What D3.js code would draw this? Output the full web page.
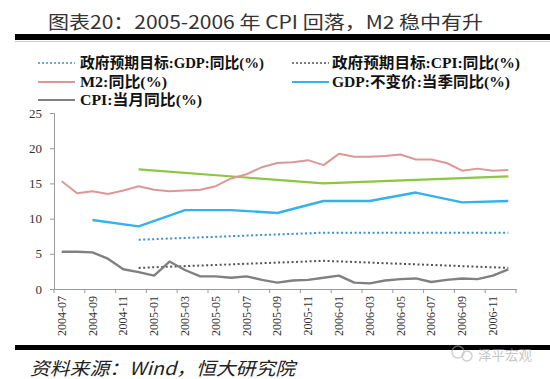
<!DOCTYPE html>
<html>
<head>
<meta charset="utf-8">
<script src="https://cdn.jsdelivr.net/npm/d3@7"></script>
<style>
  html, body { margin: 0; padding: 0; background: #fff; }
  svg { display: block; }
</style>
</head>
<body>
<script>
// ---------- data ----------
const months = ["2004-07","2004-08","2004-09","2004-10","2004-11","2004-12",
  "2005-01","2005-02","2005-03","2005-04","2005-05","2005-06",
  "2005-07","2005-08","2005-09","2005-10","2005-11","2005-12",
  "2006-01","2006-02","2006-03","2006-04","2006-05","2006-06",
  "2006-07","2006-08","2006-09","2006-10","2006-11","2006-12"];
const tickLabels = ["2004-07","2004-09","2004-11","2005-01","2005-03","2005-05","2005-07",
  "2005-09","2005-11","2006-01","2006-03","2006-05","2006-07","2006-09","2006-11"];
const yTicks = [0, 5, 10, 15, 20, 25];

const cpiMonthly = [5.3,5.3,5.2,4.3,2.8,2.4,1.9,3.9,2.7,1.8,1.8,1.6,1.8,1.3,0.9,
  1.2,1.3,1.6,1.9,0.9,0.8,1.2,1.4,1.5,1.0,1.3,1.5,1.4,1.9,2.8];
const m2Monthly = [15.3,13.6,13.9,13.5,14.0,14.6,14.1,13.9,14.0,14.1,14.6,15.7,16.3,17.3,17.9,
  18.0,18.3,17.6,19.2,18.8,18.8,18.9,19.1,18.4,18.4,17.9,16.8,17.1,16.8,16.9];

const gdpQuarters = ["2004-09","2004-12","2005-03","2005-06","2005-09","2005-12",
  "2006-03","2006-06","2006-09","2006-12"];
const gdpQuarterly = [9.8, 8.9, 11.2, 11.2, 10.8, 12.5, 12.5, 13.7, 12.3, 12.5];

const targetMonths = ["2004-12","2005-12","2006-12"];
const gdpTarget = [7, 8, 8];
const cpiTarget = [3, 4, 3];
const m2Target = [17, 15, 16];

const legendLabels = ["政府预期目标:GDP:同比(%)", "政府预期目标:CPI:同比(%)",
  "M2:同比(%)", "GDP:不变价:当季同比(%)", "CPI:当月同比(%)"];

// ---------- drawing ----------
const W = 550, H = 379;
const svg = d3.select("body").append("svg").attr("width", W).attr("height", H);
svg.append("rect").attr("width", W).attr("height", H).attr("fill", "#fff");

const cjk = "'Noto Sans CJK SC', 'Liberation Serif', serif";
const serif = "'Liberation Serif', 'Noto Sans CJK SC', serif";

// title
svg.append("text").attr("x", 48).attr("y", 21).attr("dominant-baseline", "central")
  .attr("font-family", cjk).attr("font-size", 18).attr("fill", "#333")
  .attr("textLength", 435).attr("lengthAdjust", "spacingAndGlyphs")
  .text("图表20：2005-2006 年 CPI 回落，M2 稳中有升");
svg.append("rect").attr("x", 15).attr("y", 34).attr("width", W - 15).attr("height", 6).attr("fill", "#000");
svg.append("line").attr("x1", 15).attr("x2", W).attr("y1", 41.5).attr("y2", 41.5)
  .attr("stroke", "#ccc").attr("stroke-width", 1);

// scales
const x = d3.scaleBand().domain(months).range([54, 516]).paddingInner(0).paddingOuter(0);
const cx = m => x(m) + x.bandwidth() / 2;
const y = d3.scaleLinear().domain([0, 25]).range([289, 113]);

// y axis
const yAxis = d3.axisLeft(y).tickValues(yTicks).tickSize(4).tickPadding(8);
const gy = svg.append("g").attr("transform", "translate(54,0)").call(yAxis);
gy.select(".domain").attr("stroke", "#999");
gy.selectAll(".tick line").attr("stroke", "#999");
gy.selectAll("text").attr("font-family", serif).attr("font-size", 13).attr("fill", "#333");

// x axis (labels every other category, ticks between category pairs)
const xAxis = d3.axisBottom(x).tickValues(tickLabels).tickSize(0).tickPadding(7);
const gx = svg.append("g").attr("transform", "translate(0,289)").call(xAxis);
gx.select(".domain").attr("stroke", "#999");
gx.selectAll(".tick text")
  .attr("font-family", serif).attr("font-size", 12).attr("fill", "#333")
  .attr("transform", "rotate(-90)")
  .attr("text-anchor", "end").attr("dominant-baseline", "central")
  .attr("x", -7).attr("y", 0).attr("dy", null);
const boundaries = tickLabels.map(m => x(m)).concat([x.range()[1]]);
gx.selectAll(".bt").data(boundaries).enter().append("line")
  .attr("x1", d => d).attr("x2", d => d).attr("y1", 0).attr("y2", 4)
  .attr("stroke", "#999");

// series
const line = d3.line().x(d => cx(d[0])).y(d => y(d[1]));
const pairs = (ms, vs) => ms.map((m, i) => [m, vs[i]]);

const series = [
  { data: pairs(targetMonths, m2Target), color: "#8dc640", width: 2.2, dash: null },
  { data: pairs(months, m2Monthly), color: "#dc9898", width: 2, dash: null },
  { data: pairs(gdpQuarters, gdpQuarterly), color: "#36b2ea", width: 2.4, dash: null },
  { data: pairs(targetMonths, gdpTarget), color: "#3c8fd2", width: 2, dash: "2,2.5" },
  { data: pairs(targetMonths, cpiTarget), color: "#555", width: 2, dash: "2,2.5" },
  { data: pairs(months, cpiMonthly), color: "#808080", width: 2.4, dash: null }
];
series.forEach(s => {
  svg.append("path").attr("d", line(s.data)).attr("fill", "none")
    .attr("stroke", s.color).attr("stroke-width", s.width)
    .attr("stroke-linejoin", "round")
    .attr("stroke-dasharray", s.dash);
});

// legend
const legendItems = [
  { label: legendLabels[0], color: "#3c8fd2", dash: "2,2", lx: 38, tx: 80, yy: 63, len: 184 },
  { label: legendLabels[1], color: "#555", dash: "2,2", lx: 292, tx: 332, yy: 63, len: 188 },
  { label: legendLabels[2], color: "#dc9898", dash: null, lx: 38, tx: 80, yy: 82, len: 87 },
  { label: legendLabels[3], color: "#36b2ea", dash: null, lx: 292, tx: 332, yy: 82, len: 178 },
  { label: legendLabels[4], color: "#808080", dash: null, lx: 38, tx: 80, yy: 100, len: 122 }
];
legendItems.forEach(it => {
  svg.append("line").attr("x1", it.lx).attr("x2", it.lx + 37).attr("y1", it.yy).attr("y2", it.yy)
    .attr("stroke", it.color).attr("stroke-width", it.dash ? 1.5 : 2.2)
    .attr("stroke-dasharray", it.dash);
  svg.append("text").attr("x", it.tx).attr("y", it.yy).attr("dominant-baseline", "central")
    .attr("font-family", serif).attr("font-weight", "bold").attr("font-size", 15)
    .attr("fill", "#111").attr("textLength", it.len).attr("lengthAdjust", "spacingAndGlyphs")
    .text(it.label);
});

// footer
svg.append("rect").attr("x", 15).attr("y", 345).attr("width", W - 15).attr("height", 5).attr("fill", "#000");
svg.append("text").attr("x", 30).attr("y", 367).attr("dominant-baseline", "central")
  .attr("font-family", cjk).attr("font-style", "italic").attr("font-size", 18).attr("fill", "#222")
  .attr("textLength", 265).attr("lengthAdjust", "spacingAndGlyphs")
  .text("资料来源：Wind，恒大研究院");

// watermark
const wm = svg.append("g").attr("opacity", 0.55);
wm.append("circle").attr("cx", 458).attr("cy", 352).attr("r", 6).attr("fill", "none").attr("stroke", "#aaa").attr("stroke-width", 1.5);
wm.append("circle").attr("cx", 467).attr("cy", 356).attr("r", 5).attr("fill", "none").attr("stroke", "#aaa").attr("stroke-width", 1.5);
wm.append("text").attr("x", 478).attr("y", 354).attr("dominant-baseline", "central")
  .attr("font-family", cjk).attr("font-size", 14).attr("fill", "#999")
  .attr("textLength", 54).attr("lengthAdjust", "spacingAndGlyphs")
  .text("泽平宏观");
</script>
</body>
</html>
